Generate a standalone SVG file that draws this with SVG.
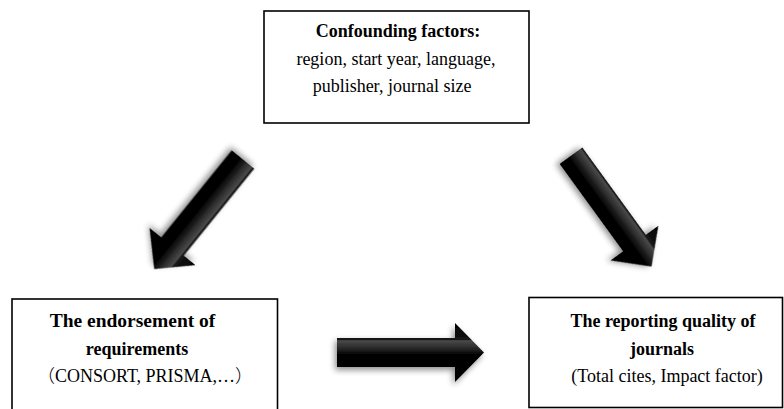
<svg xmlns="http://www.w3.org/2000/svg" width="784" height="409" viewBox="0 0 784 409">
  <style>
    .box { fill: #ffffff; stroke: #000000; stroke-width: 1.6; }
    .t { font-family: "Liberation Serif", "Noto Sans CJK SC", serif; font-size: 18px; fill: #000000; text-anchor: middle; }
    .b { font-weight: bold; }
    .cjk { font-family: "Noto Sans CJK SC", sans-serif; font-weight: 300; }
    .arrow { fill: url(#shaftGrad); filter: url(#shadow); }
  </style>
  <defs>
    <linearGradient id="shaftGrad" gradientUnits="userSpaceOnUse" x1="0" y1="-29.5" x2="0" y2="29.5">
      <stop offset="0" stop-color="#000"/>
      <stop offset="0.28" stop-color="#151515"/>
      <stop offset="0.3" stop-color="#4a4a4a"/>
      <stop offset="0.42" stop-color="#2a2a2a"/>
      <stop offset="0.55" stop-color="#000"/>
      <stop offset="1" stop-color="#000"/>
    </linearGradient>
    <filter id="shadow" x="-20%" y="-20%" width="140%" height="140%">
      <feGaussianBlur in="SourceAlpha" stdDeviation="3"/>
      <feOffset dx="-2" dy="3" result="blur"/>
      <feComponentTransfer><feFuncA type="linear" slope="0.45"/></feComponentTransfer>
      <feMerge><feMergeNode/><feMergeNode in="SourceGraphic"/></feMerge>
    </filter>
  </defs>

  <g id="connectors">
    <g id="arrow-confounders-endorsement" transform="translate(243 159.5) rotate(129)">
      <polygon class="arrow" points="0,-14.5 112,-14.5 112,-29.5 141,0 112,29.5 112,14.5 0,14.5"/>
    </g>
    <g id="arrow-confounders-quality" transform="translate(571 155.7) rotate(54)">
      <polygon class="arrow" points="0,-14 108,-14 108,-29.5 137,0 108,29.5 108,14 0,14"/>
    </g>
    <g id="arrow-endorsement-quality" transform="translate(337 352.5)">
      <polygon class="arrow" points="0,-14.5 118,-14.5 118,-29.5 147,0 118,29.5 118,14.5 0,14.5"/>
    </g>
  </g>

  <g id="node-confounding">
    <rect class="box" x="264" y="11" width="265" height="112"/>
    <text class="t b" x="398" y="37">Confounding factors:</text>
    <text class="t" x="396" y="65">region, start year, language,</text>
    <text class="t" x="392" y="92">publisher, journal size</text>
  </g>

  <g id="node-endorsement">
    <rect class="box" x="12" y="299" width="265.5" height="120"/>
    <text class="t b" x="132.5" y="327" style="font-size:19.5px">The endorsement of</text>
    <text class="t b" x="137" y="355">requirements</text>
    <text class="t" x="145" y="382"><tspan class="cjk">（</tspan>CONSORT, PRISMA,…<tspan class="cjk">）</tspan></text>
  </g>

  <g id="node-quality">
    <rect class="box" x="529" y="297.5" width="253.5" height="110"/>
    <text class="t b" x="663" y="327">The reporting quality of</text>
    <text class="t b" x="662" y="355">journals</text>
    <text class="t" x="667" y="382">(Total cites, Impact factor)</text>
  </g>
</svg>
